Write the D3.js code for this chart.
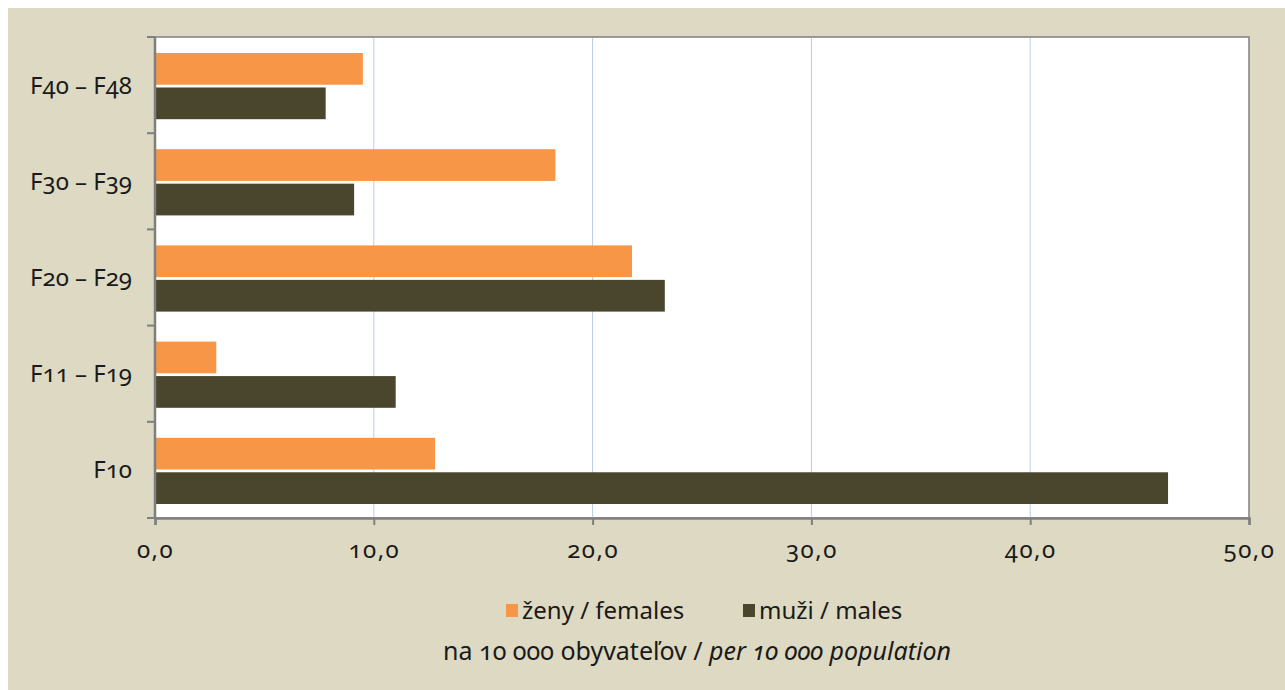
<!DOCTYPE html>
<html>
<head>
<meta charset="utf-8">
<script src="https://cdn.jsdelivr.net/npm/d3@7"></script>
<style>
  body { margin: 0; background: #fff; }
  text { font-family: "Noto Sans", "Open Sans", sans-serif; font-variant-numeric: oldstyle-nums; fill: #1a1a1a; }
</style>
</head>
<body>
<script>
// chart data
var categories = ["F40 – F48", "F30 – F39", "F20 – F29", "F11 – F19", "F10"];
var females = [9.5, 18.3, 21.8, 2.8, 12.8];
var males = [7.8, 9.1, 23.3, 11.0, 46.3];
var xTicks = [0, 10, 20, 30, 40, 50];
var seriesNames = ["ženy / females", "muži / males"];
var seriesColors = ["#f79646", "#4a452d"];

var width = 1285, height = 690;
var plot = {left: 155, right: 1249, top: 37, bottom: 518};

var svg = d3.select("body").append("svg")
    .attr("width", width)
    .attr("height", height);

svg.append("rect")
    .attr("x", 8).attr("y", 8)
    .attr("width", width - 8).attr("height", height - 8)
    .attr("fill", "#ded9c3");

var x = d3.scaleLinear().domain([0, 50]).range([plot.left, plot.right]);
var y = d3.scaleBand().domain(categories).range([plot.top, plot.bottom]);
var inner = d3.scaleBand().domain([0, 1]).range([16, y.bandwidth() - 14]).paddingInner(0.08);

svg.append("rect")
    .attr("x", plot.left).attr("y", plot.top)
    .attr("width", plot.right - plot.left).attr("height", plot.bottom - plot.top)
    .attr("fill", "#fff")
    .attr("stroke", "#7f7f7f")
    .attr("stroke-width", 1.5);

// gridlines
svg.append("g")
    .selectAll("line")
    .data(xTicks.slice(1, -1))
    .enter().append("line")
    .attr("x1", d => x(d)).attr("x2", d => x(d))
    .attr("y1", plot.top + 1).attr("y2", plot.bottom)
    .attr("stroke", "#b9cde5")
    .attr("stroke-width", 1);

// bars
var series = [females, males];
series.forEach(function(vals, si) {
    svg.append("g")
        .selectAll("rect")
        .data(vals)
        .enter().append("rect")
        .attr("x", x(0) + 1)
        .attr("y", (d, i) => y(categories[i]) + inner(si))
        .attr("width", d => x(d) - x(0) - 1)
        .attr("height", inner.bandwidth())
        .attr("fill", seriesColors[si]);
});

// axes
var xAxis = svg.append("g")
    .attr("transform", "translate(0," + plot.bottom + ")")
    .call(d3.axisBottom(x).tickValues(xTicks).tickSize(7).tickPadding(16)
        .tickFormat(d => d3.format(".1f")(d).replace(".", ",")));
xAxis.select(".domain").attr("stroke", "#7f7f7f").attr("stroke-width", 2.5);
xAxis.selectAll(".tick line").attr("stroke", "#7f7f7f").attr("stroke-width", 2);
xAxis.selectAll("text").style("font-size", "24px").style("letter-spacing", "1.5px").attr("fill", "#1a1a1a");

var yTickPos = categories.map(c => y(c)).concat([plot.bottom]);
var yAxis = svg.append("g");
yAxis.append("line")
    .attr("x1", plot.left).attr("x2", plot.left)
    .attr("y1", plot.top).attr("y2", plot.bottom)
    .attr("stroke", "#7f7f7f").attr("stroke-width", 2.5);
yAxis.selectAll(".ytick")
    .data(yTickPos)
    .enter().append("line")
    .attr("x1", plot.left - 8).attr("x2", plot.left)
    .attr("y1", d => d).attr("y2", d => d)
    .attr("stroke", "#7f7f7f").attr("stroke-width", 2);
yAxis.selectAll(".ylabel")
    .data(categories)
    .enter().append("text")
    .attr("x", 132)
    .attr("y", d => y(d) + y.bandwidth() / 2)
    .attr("dy", "0.35em")
    .attr("text-anchor", "end")
    .style("font-size", "24px")
    .text(d => d);

// legend
var legendX = [506, 743];
var legend = svg.append("g");
seriesNames.forEach(function(name, i) {
    legend.append("rect")
        .attr("x", legendX[i]).attr("y", 604)
        .attr("width", 12).attr("height", 13)
        .attr("fill", seriesColors[i]);
    legend.append("text")
        .attr("x", legendX[i] + 16).attr("y", 611)
        .attr("dy", "0.35em")
        .style("font-size", "24px")
        .text(name);
});

var note = svg.append("text")
    .attr("x", 697).attr("y", 660)
    .attr("text-anchor", "middle")
    .style("font-size", "25px");
note.append("tspan").text("na 10 000 obyvateľov / ");
note.append("tspan").style("font-style", "italic").text("per 10 000 population");
</script>
</body>
</html>
